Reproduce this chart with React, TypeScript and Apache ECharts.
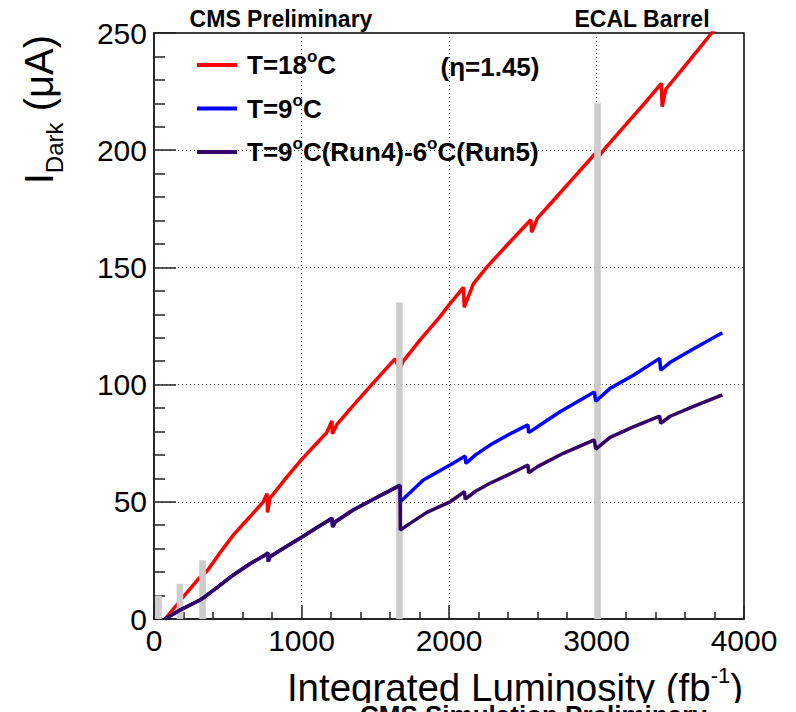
import React, { useEffect, useRef } from 'react';
import * as echarts from 'echarts';

const FONT = "'Liberation Sans', Arial, Helvetica, sans-serif";

// Integrated luminosity (fb^-1) vs dark current (uA)
const red18C: number[][] = [
  [75, 0], [180, 8], [300, 17], [360, 20.5], [450, 28.5], [540, 36], [650, 43.6], [741, 50],
  [766, 53.5], [770, 45.5], [786, 51.5], [900, 60.5], [1000, 68], [1103, 75],
  [1171, 79.5], [1206, 84.5], [1210, 79], [1240, 83], [1350, 91], [1476, 100], [1634, 111],
  [1666, 106.5], [1690, 110], [1803, 119], [1939, 129], [2000, 134], [2098, 141.5], [2103, 133],
  [2165, 143], [2255, 150], [2400, 160], [2555, 170.3], [2560, 165], [2600, 171], [2700, 178],
  [2841, 188], [2990, 198.5], [3005, 196.5], [3058, 200.8], [3200, 211], [3340, 221],
  [3440, 228.5], [3445, 218.6], [3470, 226], [3600, 236], [3781, 250], [3853, 256],
];

// Common part (T=9C during Run 4)
const sharedRun4: number[][] = [
  [75, 0], [176, 3.8], [312, 8.1], [346, 9.5], [440, 14], [538, 18.8], [651, 23.6], [760, 27.5],
  [772, 28.3], [775, 24.5], [786, 26.6], [900, 31], [1001, 34.9], [1100, 38.8], [1207, 43],
  [1211, 39.3], [1230, 41.5], [1350, 46.5], [1500, 51.5], [1657, 56.7], [1668, 57],
];

const blueRun5: number[][] = [
  [1670, 50], [1826, 59.3], [2007, 65.7], [2110, 69.5], [2114, 66.4], [2180, 70], [2278, 74.2],
  [2400, 78.5], [2535, 82.8], [2540, 79.5], [2600, 82], [2753, 88.4], [2985, 96.8], [2995, 92.9],
  [3092, 98.4], [3250, 104], [3428, 111.2], [3435, 106.2], [3500, 109.5], [3650, 115], [3853, 122.1],
];

const purpleRun5: number[][] = [
  [1670, 38], [1736, 40.8], [1850, 45.5], [2007, 50], [2105, 54.3], [2110, 51.1], [2180, 54.5],
  [2278, 57.9], [2400, 61.5], [2535, 65.7], [2540, 62.4], [2600, 65], [2775, 70.7], [2985, 76.4],
  [2995, 72.5], [3092, 77.5], [3250, 82], [3428, 86.6], [3435, 83.5], [3500, 86.5], [3650, 90.5],
  [3853, 95.6],
];

const blue9C = [...sharedRun4, ...blueRun5];
const purple9to6C = [...sharedRun4, ...purpleRun5];

// Grey markers
const markerLumi = [30, 176, 329, 1664, 3007];
const markerHeight = [10, 15, 25, 135, 220];

const seriesNames = ['T=18°C', 'T=9°C', 'T=9°C(Run4)-6°C(Run5)'];
const seriesColors = ['#ff0000', '#0000ff', '#330066'];

const xTickValues = { min: 0, max: 4000, interval: 1000 };
const yTickValues = { min: 0, max: 250, interval: 50 };

export default function App() {
  const ref = useRef<HTMLDivElement>(null);
  useEffect(() => {
    if (!ref.current) return;
    const chart = echarts.init(ref.current, undefined, { renderer: 'svg' });
    const axisColor = '#222';
    const option: any = {
      animation: false,
      backgroundColor: '#ffffff',
      grid: {
        left: 154, right: 52, top: 33, bottom: 93,
        show: true, borderColor: '#000', borderWidth: 1.5, backgroundColor: 'transparent',
        containLabel: false, outerBoundsMode: 'none',
      },
      legend: {
        data: seriesNames,
        orient: 'vertical',
        left: 197,
        top: 48,
        padding: 0,
        itemGap: 13.5,
        itemWidth: 40,
        itemHeight: 4,
        icon: 'rect',
        selectedMode: false,
        formatter: (name: string) => name.replace(/°/g, '{s|o}'),
        textStyle: {
          fontFamily: FONT, fontSize: 26, fontWeight: 'bold', color: '#000', padding: [0, 0, 0, 5],
          rich: {
            s: { fontFamily: FONT, fontSize: 17, fontWeight: 'bold', color: '#000', padding: [0, 0, 17, 0] },
          },
        },
      },
      xAxis: {
        type: 'value',
        ...xTickValues,
        axisLine: { show: true, lineStyle: { color: axisColor, width: 1.5 } },
        axisTick: { show: true, inside: true, length: 14, lineStyle: { color: axisColor, width: 1.5 } },
        minorTick: { show: true, splitNumber: 5, length: 7, lineStyle: { color: axisColor, width: 1.5 } },
        axisLabel: { fontFamily: FONT, fontSize: 30, color: '#000', margin: 6, formatter: (v: number) => String(v) },
        splitLine: { show: true, lineStyle: { type: [1, 3], color: '#444', width: 1 } },
      },
      yAxis: {
        type: 'value',
        ...yTickValues,
        axisLine: { show: true, lineStyle: { color: axisColor, width: 1.5 } },
        axisTick: { show: true, inside: true, length: 22, lineStyle: { color: axisColor, width: 1.5 } },
        minorTick: { show: true, splitNumber: 5, length: 11, lineStyle: { color: axisColor, width: 1.5 } },
        axisLabel: { fontFamily: FONT, fontSize: 30, color: '#000', margin: 7, formatter: (v: number) => String(v) },
        splitLine: { show: true, lineStyle: { type: [1, 3], color: '#444', width: 1 } },
      },
      series: [
        {
          name: seriesNames[0], type: 'line', data: red18C, showSymbol: false, symbol: 'none',
          lineStyle: { color: seriesColors[0], width: 3.5 }, itemStyle: { color: seriesColors[0] }, z: 2, clip: true,
        },
        {
          name: 'markers', type: 'custom', z: 3, silent: true,
          data: markerLumi.map((x, i) => [x, markerHeight[i]]),
          encode: { x: 0, y: 1 },
          renderItem: (params: any, api: any) => {
            const x = api.value(0);
            const h = api.value(1);
            const top = api.coord([x, h]);
            const bottom = api.coord([x, 0]);
            return {
              type: 'rect',
              shape: { x: top[0] - 3.3, y: top[1], width: 6.6, height: bottom[1] - top[1] },
              style: { fill: '#cccccc' },
            };
          },
        },
        {
          name: seriesNames[1], type: 'line', data: blue9C, showSymbol: false, symbol: 'none',
          lineStyle: { color: seriesColors[1], width: 3.5 }, itemStyle: { color: seriesColors[1] }, z: 4, clip: true,
        },
        {
          name: seriesNames[2], type: 'line', data: purple9to6C, showSymbol: false, symbol: 'none',
          lineStyle: { color: seriesColors[2], width: 3.5 }, itemStyle: { color: seriesColors[2] }, z: 5, clip: true,
        },
      ],
      graphic: [
        {
          type: 'text', x: 281, y: 19,
          style: { text: 'CMS Preliminary', fontFamily: FONT, fontSize: 23, fontWeight: 'bold', fill: '#000',
            align: 'center', verticalAlign: 'middle', textAlign: 'center', textVerticalAlign: 'middle' },
        },
        {
          type: 'text', x: 642, y: 19,
          style: { text: 'ECAL Barrel', fontFamily: FONT, fontSize: 23, fontWeight: 'bold', fill: '#000',
            align: 'center', verticalAlign: 'middle', textAlign: 'center', textVerticalAlign: 'middle' },
        },
        {
          type: 'text', x: 490, y: 67,
          style: { text: '(η=1.45)', fontFamily: FONT, fontSize: 26, fontWeight: 'bold', fill: '#000',
            align: 'center', verticalAlign: 'middle', textAlign: 'center', textVerticalAlign: 'middle' },
        },
        {
          type: 'text', x: 39, y: 35, rotation: Math.PI / 2,
          style: {
            text: '{a|I}{b|Dark}{a| (μA)}', fill: '#000',
            align: 'right', verticalAlign: 'middle', textAlign: 'right', textVerticalAlign: 'middle',
            rich: {
              a: { fontFamily: FONT, fontSize: 40, fill: '#000' },
              b: { fontFamily: FONT, fontSize: 24, fill: '#000', padding: [31, 0, 0, 0] },
            },
          },
        },
        {
          type: 'text', x: 743, y: 687.5,
          style: {
            text: '{a|Integrated Luminosity (fb}{s|-1}{a|)}', fill: '#000',
            align: 'right', verticalAlign: 'middle', textAlign: 'right', textVerticalAlign: 'middle',
            rich: {
              a: { fontFamily: FONT, fontSize: 38.5, fill: '#000' },
              s: { fontFamily: FONT, fontSize: 22, fill: '#000', padding: [0, 0, 24, 0] },
            },
          },
        },
        {
          type: 'rect', shape: { x: 0, y: 703, width: 796, height: 12 }, style: { fill: '#ffffff' }, z: 10,
        },
        {
          type: 'text', x: 360, y: 714.6, z: 11,
          style: { text: 'CMS Simulation Preliminary', fontFamily: FONT, fontSize: 26, fontWeight: 'bold', fill: '#000',
            align: 'left', verticalAlign: 'middle', textAlign: 'left', textVerticalAlign: 'middle' },
        },
      ],
    };
    chart.setOption(option);
    return () => chart.dispose();
  }, []);
  return (
    <div
      ref={ref}
      style={{ position: 'absolute', left: 0, top: 0, width: 796, height: 712, background: '#fff' }}
    />
  );
}
